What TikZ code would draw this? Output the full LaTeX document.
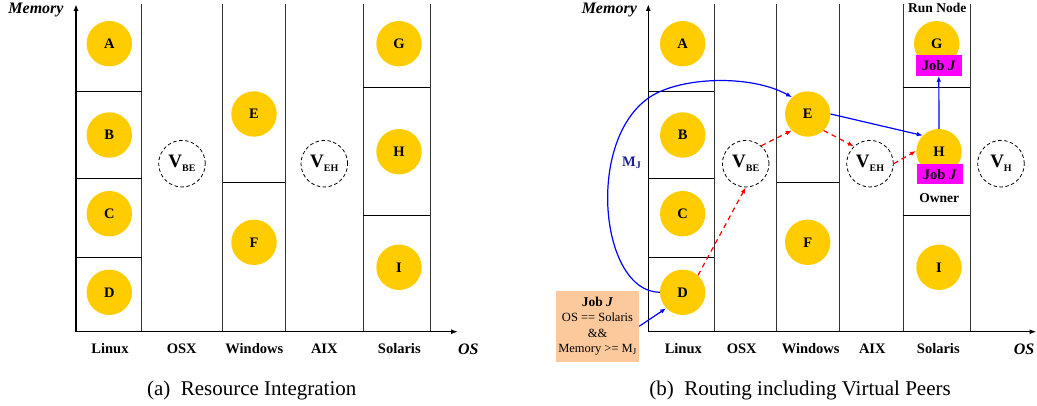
\documentclass[tikz,border=0pt]{standalone}
\usepackage{fontspec}
\setmainfont{Liberation Serif}
\usetikzlibrary{arrows.meta}
\definecolor{peergold}{RGB}{255,204,0}
\definecolor{jobpink}{RGB}{255,0,255}
\definecolor{reqorange}{RGB}{252,201,156}
\definecolor{mjblue}{RGB}{32,32,140}
\tikzset{
    every node/.style={inner sep=0pt, font=\fontsize{14.5}{16}\selectfont\bfseries}
}
\tikzset{
    peer/.style={circle, fill=peergold, minimum size=45.4pt},
    vpeer/.style={circle, draw, dash pattern=on 3.5pt off 2.5pt, line width=0.8pt, minimum size=46.6pt,
        font=\fontsize{19}{20}\selectfont\bfseries},
    jobbox/.style={rectangle, fill=jobpink, minimum width=45.7pt, minimum height=20.5pt},
    axisline/.style={line width=1.6pt, -{Latex[length=7pt,width=5pt]}},
    wall/.style={line width=0.9pt, black!80},
    route/.style={blue, line width=1.2pt, -{Latex[length=6pt,width=4.5pt]}},
    hop/.style={red, dash pattern=on 5pt off 4pt, line width=1.2pt, -{Latex[length=6pt,width=4.5pt]}},
    axname/.style={font=\fontsize{16}{18}\selectfont\bfseries\itshape},
    caption/.style={font=\fontsize{21}{24}\selectfont}
}
\newcommand{\vsub}[1]{{\fontsize{10}{11}\selectfont\raisebox{-4pt}{#1}}}

\begin{document}
\begin{tikzpicture}[x=1pt, y=-1pt]
    \useasboundingbox (0,0) rectangle (1037,406);

    % (a) resource integration
    \draw[wall] (141.7,4) -- (141.7,331.7);
    \draw[wall] (222.7,4) -- (222.7,331.7);
    \draw[wall] (285,4) -- (285,331.7);
    \draw[wall] (363.3,4) -- (363.3,331.7);
    \draw[wall] (430,4) -- (430,331.7);
    \draw (76,91) -- (141.7,91);
    \draw (76,178.3) -- (141.7,178.3);
    \draw (76,257) -- (141.7,257);
    \draw (222.7,182.3) -- (285,182.3);
    \draw (363.3,87) -- (430,87);
    \draw (363.3,215.7) -- (430,215.7);
    \draw[axisline] (76,331.7) -- (458,331.7);
    \draw[axisline] (76,331.7) -- (76,4);

    \node (A) [peer] at (109.3,43.7) {A};
    \node (B) [peer] at (109.3,135) {B};
    \node (C) [peer] at (109.3,213.7) {C};
    \node (D) [peer] at (109.3,292.3) {D};
    \node (E) [peer] at (254,114) {E};
    \node (F) [peer] at (254,242.3) {F};
    \node (G) [peer] at (399,43.7) {G};
    \node (H) [peer] at (399,151.7) {H};
    \node (I) [peer] at (399,267.3) {I};
    \node (vBE) [vpeer] at (182,163.7) {V\vsub{BE}};
    \node (vEH) [vpeer] at (324.3,163.7) {V\vsub{EH}};

    \node (linux) at (110,349) {Linux};
    \node (osx) at (181.7,349) {OSX};
    \node (win) at (254.3,349) {Windows};
    \node (aix) at (324.3,349) {AIX};
    \node (sol) at (399.3,349) {Solaris};
    \node (os) [axname] at (468.3,349) {OS};
    \node (mem) [axname] at (36,10) {Memory};
    \node (capa) [caption] at (251.7,390) {(a)\ \ Resource Integration};

    % (b) routing including virtual peers
    \draw[wall] (714.3,4) -- (714.3,331.7);
    \draw[wall] (776.7,4) -- (776.7,331.7);
    \draw[wall] (839,4) -- (839,331.7);
    \draw[wall] (903.3,4) -- (903.3,331.7);
    \draw[wall] (970,4) -- (970,331.7);
    \draw (648.3,91) -- (714.3,91);
    \draw (648.3,178.3) -- (714.3,178.3);
    \draw (648.3,257) -- (714.3,257);
    \draw (776.7,182.3) -- (839,182.3);
    \draw (903.3,87) -- (970,87);
    \draw (903.3,215.7) -- (970,215.7);
    \draw[axisline] (648.3,331.7) -- (1036.5,331.7);
    \draw[axisline] (648.3,331.7) -- (648.3,4);

    \node (A2) [peer] at (682.7,43.7) {A};
    \node (B2) [peer] at (682.7,135) {B};
    \node (C2) [peer] at (682.7,213.7) {C};
    \node (D2) [peer] at (682.7,292.3) {D};
    \node (E2) [peer] at (807.7,114) {E};
    \node (F2) [peer] at (807.7,242.3) {F};
    \node (G2) [peer] at (936.7,43.7) {G};
    \node (H2) [peer] at (939,151.7) {H};
    \node (I2) [peer] at (939,267.3) {I};
    \node (vBE2) [vpeer] at (745.7,163.7) {V\vsub{BE}};
    \node (vEH2) [vpeer] at (870,163.7) {V\vsub{EH}};
    \node (vH2) [vpeer] at (1001,163.7) {V\vsub{H}};

    \node (jobG) [jobbox] at (938.8,65.3) {Job \textit{J}};
    \node (jobH) [jobbox] at (939.8,174.2) {Job \textit{J}};
    \node (run) [font=\fontsize{13.5}{15}\selectfont\bfseries] at (937.3,8.3) {Run Node};
    \node (owner) [font=\fontsize{13.5}{15}\selectfont\bfseries] at (939.3,197.7) {Owner};

    \node (req) [fill=reqorange, minimum width=83pt, minimum height=70.7pt, align=center,
        font=\fontsize{12.5}{15.3}\selectfont] at (597.5,326.3)
        {{\fontsize{13.5}{15.3}\selectfont\bfseries Job \textit{J}}\\OS == Solaris\\\&\&\\Memory >= M\textsubscript{J}};
    \node (mj) [text=mjblue] at (631.7,162.7) {M\textsubscript{J}};

    \node (linux2) at (683.3,349) {Linux};
    \node (osx2) at (741.7,349) {OSX};
    \node (win2) at (810.7,349) {Windows};
    \node (aix2) at (872.3,349) {AIX};
    \node (sol2) at (938.3,349) {Solaris};
    \node (os2) [axname] at (1024,349) {OS};
    \node (mem2) [axname] at (609.3,10) {Memory};
    \node (capb) [caption] at (800,390) {(b)\ \ Routing including Virtual Peers};

    \draw[route] (req.east) -- (D2.224);
    \draw[route] (D2.west) .. controls (600,292) and (585,140) .. (650,97)
        .. controls (680,77) and (750,74) .. (E2.133);
    \draw[route] (E2.east) -- (H2.135);
    \draw[route] (H2.north) -- (jobG.south);

    \draw[hop] (D2.48) -- (vBE2.south);
    \draw[hop] (vBE2.49) -- (E2.226);
    \draw[hop] (E2.314) -- (vEH2.133);
    \draw[hop] (vEH2.east) -- (H2.178);
\end{tikzpicture}
\end{document}
